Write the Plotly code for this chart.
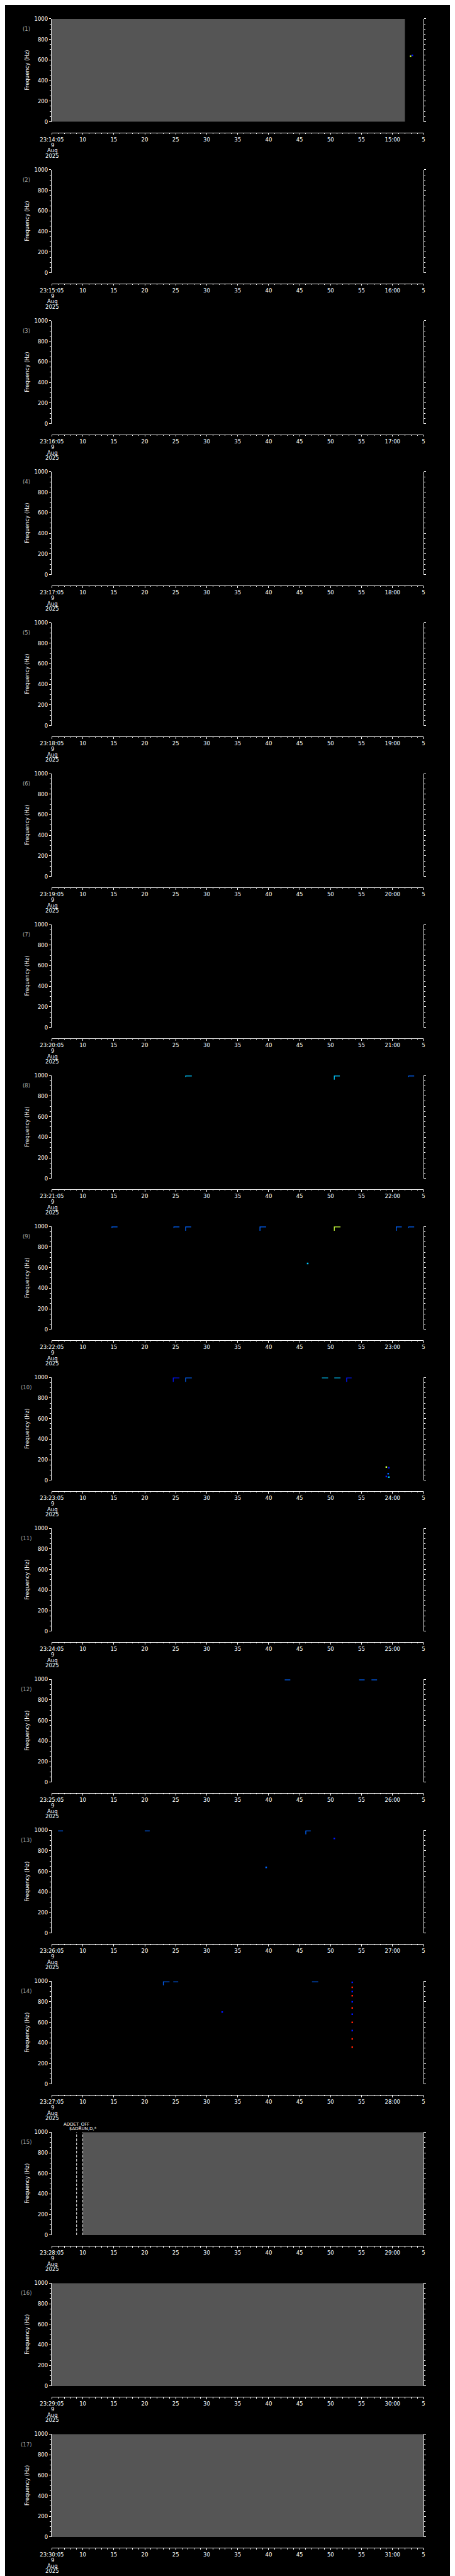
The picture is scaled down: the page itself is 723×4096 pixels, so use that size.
import plotly.graph_objects as go

# ---------------- data ----------------
panel_starts = ["23:14:05", "23:15:05", "23:16:05", "23:17:05", "23:18:05", "23:19:05",
                "23:20:05", "23:21:05", "23:22:05", "23:23:05", "23:24:05", "23:25:05",
                "23:26:05", "23:27:05", "23:28:05", "23:29:05", "23:30:05"]
date_lines = ["9", "Aug", "2025"]
freq_ticks = [0, 200, 400, 600, 800, 1000]
sec_ticks = list(range(0, 61, 5))

# gray (no-data fill) coverage: panel, start second, end second
fill_panel = [1, 15, 16, 17]
fill_t0 = [0, 5.0, 0, 0]
fill_t1 = [57.0, 60, 60, 60]

# spectral marks: horizontal segment at freq from t0..t1, optional drop to lower freq at t0
mark_panel = [8, 8, 8,
              9, 9, 9, 9, 9, 9, 9,
              10, 10, 10, 10, 10,
              12, 12, 12,
              13, 13, 13,
              14, 14, 14]
mark_t0 = [21.6, 45.6, 57.6,
           9.7, 19.7, 21.6, 33.6, 45.6, 55.6, 57.6,
           19.6, 21.6, 43.6, 45.6, 47.6,
           37.6, 49.6, 51.6,
           1.0, 15.0, 41.0,
           18.0, 19.6, 42.0]
mark_t1 = [22.6, 46.5, 58.5,
           10.6, 20.6, 22.5, 34.6, 46.6, 56.5, 58.5,
           20.6, 22.6, 44.6, 46.6, 48.4,
           38.5, 50.5, 52.5,
           1.8, 15.8, 41.8,
           19.0, 20.4, 43.0]
mark_f = [995] * 24
mark_drop = [985, 960, 985,
             985, 985, 958, 958, 958, 958, 985,
             957, 957, None, None, 957,
             None, None, None,
             None, None, 960,
             960, None, None]
mark_level = [3, 3, 2,
              2, 2, 2, 2, 4, 2, 2,
              1, 2, 3, 3, 1,
              2, 2, 2,
              2, 2, 2,
              2, 2, 2]

# isolated spectral dots
dot_panel = [1, 1, 9, 10, 10, 10, 10, 10, 13, 13,
             14, 14, 14, 14, 14, 14, 14, 14, 14, 14, 14, 14]
dot_t = [57.9, 58.2, 41.3, 54.0, 54.4, 54.3, 54.0, 54.4, 34.6, 45.6,
         48.5, 48.5, 48.5, 48.5, 48.5, 48.5, 48.5, 48.5, 48.5, 48.5, 48.5, 27.5]
dot_f = [636, 645, 640, 129, 122, 65, 37, 31, 640, 920,
         990, 940, 900, 860, 800, 740, 680, 600, 520, 440, 360, 700]
dot_level = [4, 1, 3, 4, 1, 2, 1, 3, 2, 1,
             1, 5, 1, 5, 1, 5, 1, 5, 1, 5, 5, 1]

# instrument events
event_panel = [15, 15]
event_t = [4.0, 5.0]
event_label = ["ADDET_OFF", "$ADRUN,D,*"]

level_colors = {1: "#0014ff", 2: "#0064ff", 3: "#00c8ff", 4: "#c8ff3c", 5: "#ff1e00"}

# ---------------- geometry (reference px, scaled) ----------------
S = 0.705
W, H = 723, 4096
L_REF, R_REF = 81, 945
TOP0, PITCH, PH = 24, 341.3, 232.7
AXIS_OFF = 257
FONT = "DejaVu Sans"
FS = 8.5


def py(v):
    return 1 - v * S / H


def px(v):
    return v * S / W


fig = go.Figure()
annotations = []
layout = {}

for i, start in enumerate(panel_starts):
    k = i + 1
    xa = "x" if k == 1 else f"x{k}"
    ya = "y" if k == 1 else f"y{k}"
    top = TOP0 + i * PITCH

    hh, mm, ss = start.split(":")
    next_min = f"{int(mm) + 1:02d}:00"
    ticktext = []
    for s in sec_ticks:
        if s == 0:
            ticktext.append(start)
        else:
            sec = (int(ss) + s) % 60
            ticktext.append(next_min if sec == 0 else str(sec))

    layout["xaxis" if k == 1 else f"xaxis{k}"] = dict(
        domain=[px(L_REF), px(R_REF)], range=[0, 60], anchor="free",
        position=py(top + AXIS_OFF), showgrid=False, zeroline=False,
        showline=True, linecolor="white", linewidth=1,
        ticks="outside", ticklen=2.8, tickwidth=1, tickcolor="white",
        tickmode="array", tickvals=sec_ticks, ticktext=ticktext,
        tickfont=dict(family=FONT, size=FS, color="white"),
        minor=dict(tickmode="linear", tick0=0, dtick=1, ticks="outside",
                   ticklen=1.5, tickwidth=1, tickcolor="white"),
        fixedrange=True,
    )
    layout["yaxis" if k == 1 else f"yaxis{k}"] = dict(
        domain=[py(top + PH), py(top)], range=[0, 1000], anchor=xa,
        showgrid=False, zeroline=False, showline=True, linecolor="white",
        linewidth=1, mirror="ticks", ticks="outside", ticklen=3.5,
        tickwidth=1, tickcolor="white", tickmode="array", tickvals=freq_ticks,
        tickfont=dict(family=FONT, size=FS, color="white"),
        minor=dict(tickmode="linear", tick0=0, dtick=50, ticks="outside",
                   ticklen=2.3, tickwidth=1, tickcolor="white"),
        fixedrange=True,
    )

    # invisible anchor trace so every panel's axes are drawn
    fig.add_trace(go.Scatter(x=[0], y=[0], mode="markers", xaxis=xa, yaxis=ya,
                             marker=dict(opacity=0), hoverinfo="skip", showlegend=False))

    # gray fill
    for p, a, b in zip(fill_panel, fill_t0, fill_t1):
        if p == k:
            fig.add_trace(go.Heatmap(z=[[0]], x=[a, b], y=[0, 1000], xaxis=xa, yaxis=ya,
                                     colorscale=[[0, "#555555"], [1, "#555555"]],
                                     showscale=False, hoverinfo="skip"))

    # marks grouped by level
    for lev, col in level_colors.items():
        xs, ys = [], []
        for p, a, b, f, d, l in zip(mark_panel, mark_t0, mark_t1, mark_f, mark_drop, mark_level):
            if p == k and l == lev:
                if d is not None:
                    xs += [a, a, b, None]
                    ys += [d, f, f, None]
                else:
                    xs += [a, b, None]
                    ys += [f, f, None]
        if xs:
            fig.add_trace(go.Scatter(x=xs, y=ys, mode="lines", xaxis=xa, yaxis=ya,
                                     line=dict(color=col, width=1.3), hoverinfo="skip",
                                     showlegend=False))
        dx = [t for p, t, l in zip(dot_panel, dot_t, dot_level) if p == k and l == lev]
        dy = [f for p, f, l in zip(dot_panel, dot_f, dot_level) if p == k and l == lev]
        if dx:
            fig.add_trace(go.Scatter(x=dx, y=dy, mode="markers", xaxis=xa, yaxis=ya,
                                     marker=dict(color=col, size=2.5, symbol="square",
                                                 line=dict(width=0)),
                                     hoverinfo="skip", showlegend=False))

    # events
    for p, t, lab in zip(event_panel, event_t, event_label):
        if p == k:
            fig.add_trace(go.Scatter(x=[t, t], y=[0, 1000], mode="lines", xaxis=xa, yaxis=ya,
                                     line=dict(color="white", width=1, dash="4px,2.5px"),
                                     hoverinfo="skip", showlegend=False))
    ev = [(t, lab) for p, t, lab in zip(event_panel, event_t, event_label) if p == k]
    for j, (t, lab) in enumerate(ev):
        annotations.append(dict(x=t, xref=xa, y=py(top - 17.7 + j * 10), yref="paper",
                                text=lab, showarrow=False, xanchor="center", yanchor="middle",
                                font=dict(family=FONT, size=7, color="white")))

    # panel label
    annotations.append(dict(x=px(21.5), y=py(top + 23), xref="paper", yref="paper",
                            text=f"({k})", showarrow=False, xanchor="center", yanchor="middle",
                            font=dict(family=FONT, size=FS, color="#a8a8a8")))
    # y title
    annotations.append(dict(x=px(23), y=py(top + PH / 2), xref="paper", yref="paper",
                            text="Frequency (Hz)", textangle=-90, showarrow=False,
                            xanchor="center", yanchor="middle",
                            font=dict(family=FONT, size=FS, color="white")))
    # date lines under first tick
    for j, dl in enumerate(date_lines):
        annotations.append(dict(x=px(L_REF + 1), y=py(top + AXIS_OFF + 29 + j * 12),
                                xref="paper", yref="paper", text=dl, showarrow=False,
                                xanchor="center", yanchor="middle",
                                font=dict(family=FONT, size=FS, color="white")))

fig.update_layout(**layout)
fig.update_layout(width=W, height=H, margin=dict(l=0, r=0, t=0, b=0),
                  paper_bgcolor="black", plot_bgcolor="black", showlegend=False,
                  annotations=annotations)

fig.write_html("out.html", config={"displayModeBar": False})
